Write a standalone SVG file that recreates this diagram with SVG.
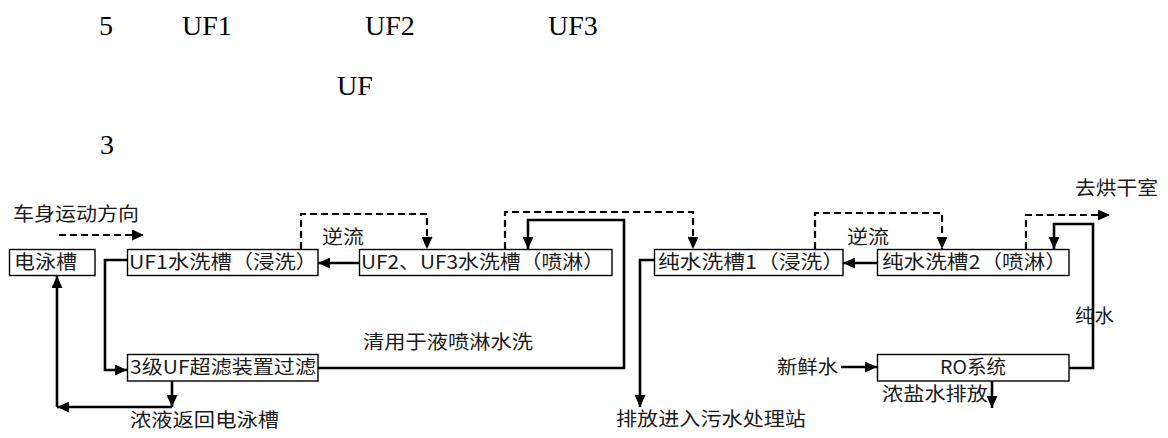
<svg xmlns="http://www.w3.org/2000/svg" width="1168" height="438" viewBox="0 0 1168 438">
<style>
.bg{fill:#fff}
.box{fill:#fff;stroke:#000;stroke-width:1.4}
.t{font-family:"Noto Sans CJK SC","Liberation Sans",sans-serif;font-size:19px;fill:#1a1a1a}
.top{font-family:"Liberation Serif",serif;font-size:28px;fill:#000}
.solid{fill:none;stroke:#000;stroke-width:2.6}
.dash{fill:none;stroke:#000;stroke-width:2.2;stroke-dasharray:7 4}
</style>
<defs>
<marker id="ah" viewBox="0 0 12 11" refX="12" refY="5.5" markerWidth="12" markerHeight="11" markerUnits="userSpaceOnUse" orient="auto">
<path d="M0,0 L12,5.5 L0,11 z" fill="#000"/>
</marker>
</defs>
<rect class="bg" x="0" y="0" width="1168" height="438"/>
<g id="heading">
<text class="top" x="99" y="35">5</text>
<text class="top" x="182" y="35">UF1</text>
<text class="top" x="365" y="35">UF2</text>
<text class="top" x="548" y="35">UF3</text>
<text class="top" x="337" y="95">UF</text>
<text class="top" x="100" y="154">3</text>
</g>
<g id="connectors">
<path class="dash" d="M59,235 H144" marker-end="url(#ah)"/>
<path class="dash" d="M301,249 V214 H427 V249" marker-end="url(#ah)"/>
<path class="dash" d="M505,249 V212 H693 V249" marker-end="url(#ah)"/>
<path class="dash" d="M815,249 V213 H942 V249" marker-end="url(#ah)"/>
<path class="dash" d="M1026,249 V215 H1110" marker-end="url(#ah)"/>
<path class="solid" d="M359,263 H318" marker-end="url(#ah)"/>
<path class="solid" d="M877,263 H843" marker-end="url(#ah)"/>
<path class="solid" d="M318,368 H624 V220 H528 V249" marker-end="url(#ah)"/>
<path class="solid" d="M127,260 H105 V370 H127" marker-end="url(#ah)"/>
<path class="solid" d="M172,381 V407" marker-end="url(#ah)"/>
<path class="solid" d="M172,407 H57" marker-end="url(#ah)"/>
<path class="solid" d="M57,407 V276" marker-end="url(#ah)"/>
<path class="solid" d="M654,260 H640 V407" marker-end="url(#ah)"/>
<path class="solid" d="M1069,368 H1093 V224 H1054 V249" marker-end="url(#ah)"/>
<path class="solid" d="M841,367 H877" marker-end="url(#ah)"/>
<path class="solid" d="M992,381 V408" marker-end="url(#ah)"/>
</g>
<g id="labels">
<text class="t" x="13" y="221" textLength="126" lengthAdjust="spacingAndGlyphs">车身运动方向</text>
<text class="t" x="322" y="244" textLength="42" lengthAdjust="spacingAndGlyphs">逆流</text>
<text class="t" x="847" y="244" textLength="42" lengthAdjust="spacingAndGlyphs">逆流</text>
<text class="t" x="1075" y="195" textLength="83" lengthAdjust="spacingAndGlyphs">去烘干室</text>
<text class="t" x="363" y="349" textLength="170" lengthAdjust="spacingAndGlyphs">清用于液喷淋水洗</text>
<text class="t" x="130" y="427" textLength="149" lengthAdjust="spacingAndGlyphs">浓液返回电泳槽</text>
<text class="t" x="616" y="426" textLength="190" lengthAdjust="spacingAndGlyphs">排放进入污水处理站</text>
<text class="t" x="1075" y="323" textLength="39" lengthAdjust="spacingAndGlyphs">纯水</text>
<text class="t" x="777" y="374" textLength="61" lengthAdjust="spacingAndGlyphs">新鲜水</text>
<text class="t" x="882" y="401" textLength="106" lengthAdjust="spacingAndGlyphs">浓盐水排放</text>
</g>
<g id="electro-tank">
<rect class="box" x="9.5" y="249.5" width="85.5" height="26"/>
<text class="t" x="14" y="269" textLength="63" lengthAdjust="spacingAndGlyphs">电泳槽</text>
</g>
<g id="uf1-tank">
<rect class="box" x="127.5" y="249.5" width="190.5" height="26"/>
<text class="t" x="129" y="269" textLength="188" lengthAdjust="spacingAndGlyphs">UF1水洗槽（浸洗）</text>
</g>
<g id="uf23-tank">
<rect class="box" x="359.5" y="249.5" width="252.5" height="26"/>
<text class="t" x="361" y="269" textLength="243" lengthAdjust="spacingAndGlyphs">UF2、UF3水洗槽（喷淋）</text>
</g>
<g id="pure-tank-1">
<rect class="box" x="654.5" y="249.5" width="188.5" height="26"/>
<text class="t" x="658" y="269" textLength="186" lengthAdjust="spacingAndGlyphs">纯水洗槽1（浸洗）</text>
</g>
<g id="pure-tank-2">
<rect class="box" x="877.5" y="249.5" width="191.5" height="26"/>
<text class="t" x="882" y="269" textLength="185" lengthAdjust="spacingAndGlyphs">纯水洗槽2（喷淋）</text>
</g>
<g id="uf-filter">
<rect class="box" x="127.5" y="354.5" width="190.5" height="26.5"/>
<text class="t" x="130" y="374" textLength="186" lengthAdjust="spacingAndGlyphs">3级UF超滤装置过滤</text>
</g>
<g id="ro-system">
<rect class="box" x="877.5" y="354.5" width="191.5" height="26.5"/>
<text class="t" x="940" y="374" textLength="66" lengthAdjust="spacingAndGlyphs">RO系统</text>
</g>
</svg>
